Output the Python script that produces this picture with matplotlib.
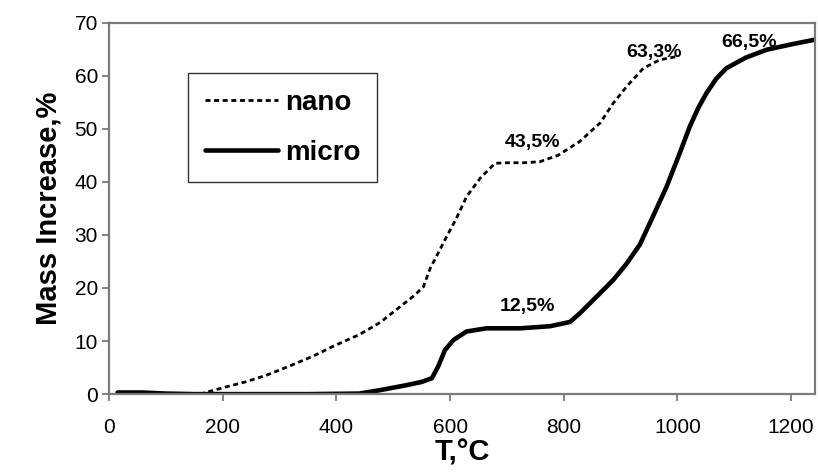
import matplotlib
matplotlib.use("Agg")
import matplotlib.pyplot as plt

plt.rcParams['font.family'] = ['Liberation Sans', 'DejaVu Sans']

nano_T = [160, 200, 240, 278, 320, 360, 394, 440, 477, 510, 535, 553, 565, 582, 594, 611, 629, 653, 679, 700, 730, 758, 790, 828, 864, 887, 911, 940, 969, 998]
nano_y = [0.0, 1.2, 2.3, 3.6, 5.4, 7.2, 9.0, 11.2, 13.5, 16.3, 18.4, 20.2, 23.7, 27.2, 29.7, 33.1, 37.2, 40.7, 43.5, 43.6, 43.6, 43.8, 45.0, 47.6, 51.1, 54.8, 58.0, 61.4, 63.0, 63.6]

micro_T = [15, 60, 100, 150, 250, 350, 440, 477, 524, 550, 568, 579, 591, 606, 629, 664, 723, 776, 811, 828, 860, 887, 910, 934, 957, 981, 1004, 1022, 1037, 1051, 1068, 1086, 1120, 1157, 1200, 1242]
micro_y = [0.3, 0.3, 0.1, 0.0, 0.0, 0.0, 0.1, 0.75, 1.7, 2.3, 3.0, 5.2, 8.3, 10.2, 11.8, 12.4, 12.4, 12.8, 13.6, 15.2, 18.6, 21.5, 24.5, 28.2, 33.5, 39.1, 45.4, 50.5, 54.0, 56.7, 59.4, 61.4, 63.4, 64.9, 65.9, 66.8]

x_ticks = [0, 200, 400, 600, 800, 1000, 1200]
y_ticks = [0, 10, 20, 30, 40, 50, 60, 70]

annotations = [("43,5%", 745, 47.4), ("63,3%", 959, 64.4), ("66,5%", 1126, 66.3), ("12,5%", 736, 16.5)]

fig = plt.figure(figsize=(8.18, 4.72), dpi=100)
ax = fig.add_axes([0.1333, 0.165, 0.8630, 0.787])

ax.plot(nano_T, nano_y, color='black', lw=2.0, linestyle=(0, (1.8, 1.3)), label='nano')
ax.plot(micro_T, micro_y, color='black', lw=3.3, solid_capstyle='round', solid_joinstyle='round', label='micro')

for txt, xx, yy in annotations:
    ax.text(xx, yy, txt, ha='center', va='center', fontsize=14, fontweight='bold')

ax.set_xlim(0, 1242)
ax.set_ylim(0, 70)
ax.set_xticks(x_ticks)
ax.set_yticks(y_ticks)
ax.tick_params(axis='both', labelsize=15, colors='#7a7a7a', labelcolor='black', length=5, width=1.3, direction='out')
ax.tick_params(axis='x', pad=12)
ax.tick_params(axis='y', pad=3)
for s in ax.spines.values():
    s.set_color('#7a7a7a')
    s.set_linewidth(1.6)

ax.set_xlabel('T,°C', fontsize=21, fontweight='bold', labelpad=1)
ax.set_ylabel('Mass Increase,%', fontsize=21, fontweight='bold', labelpad=9)

leg = ax.legend(loc='upper left', bbox_to_anchor=(0.112, 0.8645),
                prop={'weight': 'bold', 'size': 20}, frameon=True, fancybox=False,
                handlelength=2.65, handletextpad=0.25, borderpad=0.6, labelspacing=0.86,
                borderaxespad=0)
leg.get_frame().set_edgecolor('black')
leg.get_frame().set_linewidth(1.0)

fig.savefig('out.png', dpi=100)
